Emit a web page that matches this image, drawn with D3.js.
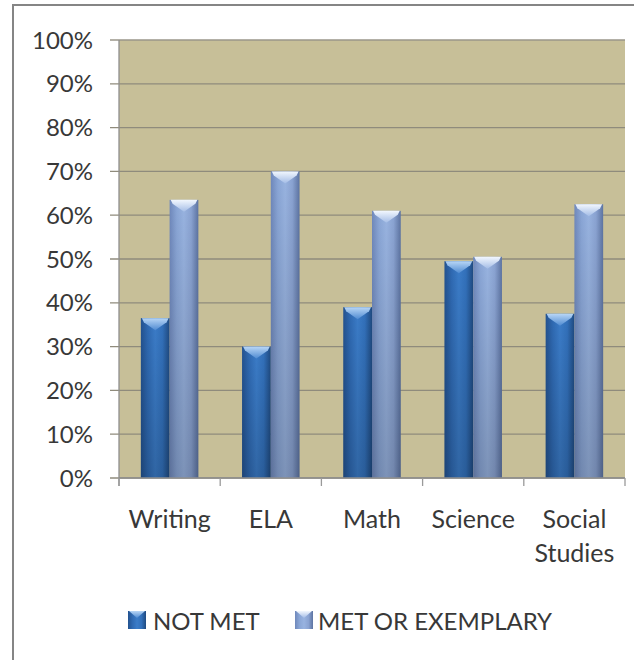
<!DOCTYPE html>
<html>
<head>
<meta charset="utf-8">
<script src="https://cdn.jsdelivr.net/npm/d3@7"></script>
<style>
  html, body { margin: 0; padding: 0; background: #fff; }
  svg { display: block; }
</style>
</head>
<body>
<div id="chart"></div>
<script>
const subjects = ["Writing", "ELA", "Math", "Science", "Social Studies"];
const series = ["NOT MET", "MET OR EXEMPLARY"];
const notMet = [36.5, 30, 39, 49.5, 37.5];
const metOrExemplary = [63.5, 70, 61, 50.5, 62.5];
const yTicks = [0, 10, 20, 30, 40, 50, 60, 70, 80, 90, 100];

const width = 634;
const height = 660;
const margin = { top: 40, right: 9, bottom: 182, left: 119 };

const svg = d3.select("#chart").append("svg")
  .attr("width", width)
  .attr("height", height)
  .style("font-family", "Lato, 'Open Sans', sans-serif");

const defs = svg.append("defs");

// bar shading, one per series
const palettes = [
  { id: "dark", stops: ["#23528f", "#2f6ab3", "#3b7cc8", "#3270ba", "#1f4a80"], cap: ["#b8d6f6", "#4f8bd2"] },
  { id: "light", stops: ["#6f88bb", "#8aa6d6", "#98b3e0", "#8aa3d2", "#5d74a2"], cap: ["#f2f7fe", "#a3bce6"] }
];
palettes.forEach(p => {
  const g = defs.append("linearGradient").attr("id", `grad-${p.id}`)
    .attr("x1", 0).attr("x2", 1).attr("y1", 0).attr("y2", 0);
  p.stops.forEach((c, i) => g.append("stop").attr("offset", i / (p.stops.length - 1)).attr("stop-color", c));
  const c = defs.append("linearGradient").attr("id", `cap-${p.id}`)
    .attr("x1", 0).attr("x2", 0).attr("y1", 0).attr("y2", 1);
  c.append("stop").attr("offset", 0).attr("stop-color", p.cap[0]);
  c.append("stop").attr("offset", 1).attr("stop-color", p.cap[1]);
});
const shade = defs.append("linearGradient").attr("id", "shade")
  .attr("x1", 0).attr("x2", 0).attr("y1", 0).attr("y2", 1);
shade.append("stop").attr("offset", 0).attr("stop-color", "#000").attr("stop-opacity", 0);
shade.append("stop").attr("offset", 1).attr("stop-color", "#000").attr("stop-opacity", 0.18);

// outer frame
svg.append("path")
  .attr("d", `M13,${height} L13,5 L${width},5`)
  .attr("fill", "none")
  .attr("stroke", "#858585")
  .attr("stroke-width", 2);

const x = d3.scaleBand()
  .domain(subjects)
  .range([margin.left, width - margin.right]);

const xs = d3.scaleBand()
  .domain(series)
  .range([0, x.bandwidth()])
  .paddingOuter(0.76);

const y = d3.scaleLinear()
  .domain([0, 100])
  .range([height - margin.bottom, margin.top]);

// plot background
svg.append("rect")
  .attr("x", margin.left)
  .attr("y", margin.top)
  .attr("width", width - margin.right - margin.left)
  .attr("height", y(0) - y(100))
  .attr("fill", "#c7bf98");

// gridlines + y ticks
svg.append("g")
  .selectAll("line")
  .data(yTicks)
  .join("line")
  .attr("x1", margin.left - 9)
  .attr("x2", width - margin.right)
  .attr("y1", d => y(d))
  .attr("y2", d => y(d))
  .attr("stroke", d => d === 100 ? "#9a968a" : "#8f8b7c")
  .attr("stroke-width", 1.3);

svg.append("g")
  .selectAll("text")
  .data(yTicks)
  .join("text")
  .attr("x", 93)
  .attr("y", d => y(d))
  .attr("dy", "0.36em")
  .attr("text-anchor", "end")
  .style("font-size", "24px")
  .style("fill", "#383838")
  .text(d => `${d}%`);

// bars
const rows = subjects.map((s, i) => ({ subject: s, values: [notMet[i], metOrExemplary[i]] }));
const bars = svg.append("g")
  .selectAll("g")
  .data(rows)
  .join("g")
  .attr("transform", d => `translate(${x(d.subject)},0)`);

bars.each(function (d) {
  const g = d3.select(this);
  d.values.forEach((v, j) => {
    const bx = xs(series[j]);
    const bw = xs.bandwidth();
    const by = y(v);
    const bh = y(0) - by;
    const p = palettes[j];
    g.append("rect")
      .attr("x", bx).attr("y", by)
      .attr("width", bw).attr("height", bh)
      .attr("fill", `url(#grad-${p.id})`);
    g.append("rect")
      .attr("x", bx).attr("y", by)
      .attr("width", bw).attr("height", bh)
      .attr("fill", "url(#shade)");
    g.append("path")
      .attr("d", `M${bx + 1},${by} L${bx + bw - 1},${by} L${bx + bw - 3},${by + 4} L${bx + bw / 2},${by + 12} L${bx + 3},${by + 4} Z`)
      .attr("fill", `url(#cap-${p.id})`);
  });
});

// x axis
svg.append("line")
  .attr("x1", margin.left).attr("x2", width - margin.right)
  .attr("y1", y(0)).attr("y2", y(0))
  .attr("stroke", "#8f8f8f").attr("stroke-width", 1.3);
svg.append("line")
  .attr("x1", margin.left).attr("x2", margin.left)
  .attr("y1", margin.top).attr("y2", y(0) + 8)
  .attr("stroke", "#8f8f8f").attr("stroke-width", 1.3);

svg.append("g")
  .selectAll("line")
  .data(subjects.concat(["end"]))
  .join("line")
  .attr("x1", (d, i) => i < subjects.length ? x(d) : width - margin.right)
  .attr("x2", (d, i) => i < subjects.length ? x(d) : width - margin.right)
  .attr("y1", y(0))
  .attr("y2", y(0) + 8)
  .attr("stroke", "#9a9a9a")
  .attr("stroke-width", 1.3);

svg.append("g")
  .selectAll("text")
  .data(subjects)
  .join("text")
  .attr("x", d => x(d) + x.bandwidth() / 2)
  .attr("y", 528)
  .attr("text-anchor", "middle")
  .style("font-size", "25px")
  .style("fill", "#383838")
  .each(function (d) {
    const words = d.split(" ");
    const t = d3.select(this);
    words.forEach((w, i) => {
      t.append("tspan")
        .attr("x", x(d) + x.bandwidth() / 2)
        .attr("dy", i === 0 ? 0 : 34)
        .text(w);
    });
  });

// legend
const legendItems = [
  { name: series[0], sx: 128, tx: 153, p: palettes[0] },
  { name: series[1], sx: 295, tx: 318, p: palettes[1] }
];
const legend = svg.append("g");
legendItems.forEach(l => {
  legend.append("rect")
    .attr("x", l.sx).attr("y", 611)
    .attr("width", 18).attr("height", 18)
    .attr("fill", `url(#grad-${l.p.id})`);
  legend.append("path")
    .attr("d", `M${l.sx + 1},611 L${l.sx + 17},611 L${l.sx + 9},618 Z`)
    .attr("fill", `url(#cap-${l.p.id})`);
  legend.append("text")
    .attr("x", l.tx).attr("y", 630)
    .style("font-size", "24px")
    .style("fill", "#383838")
    .text(l.name);
});
</script>
</body>
</html>
